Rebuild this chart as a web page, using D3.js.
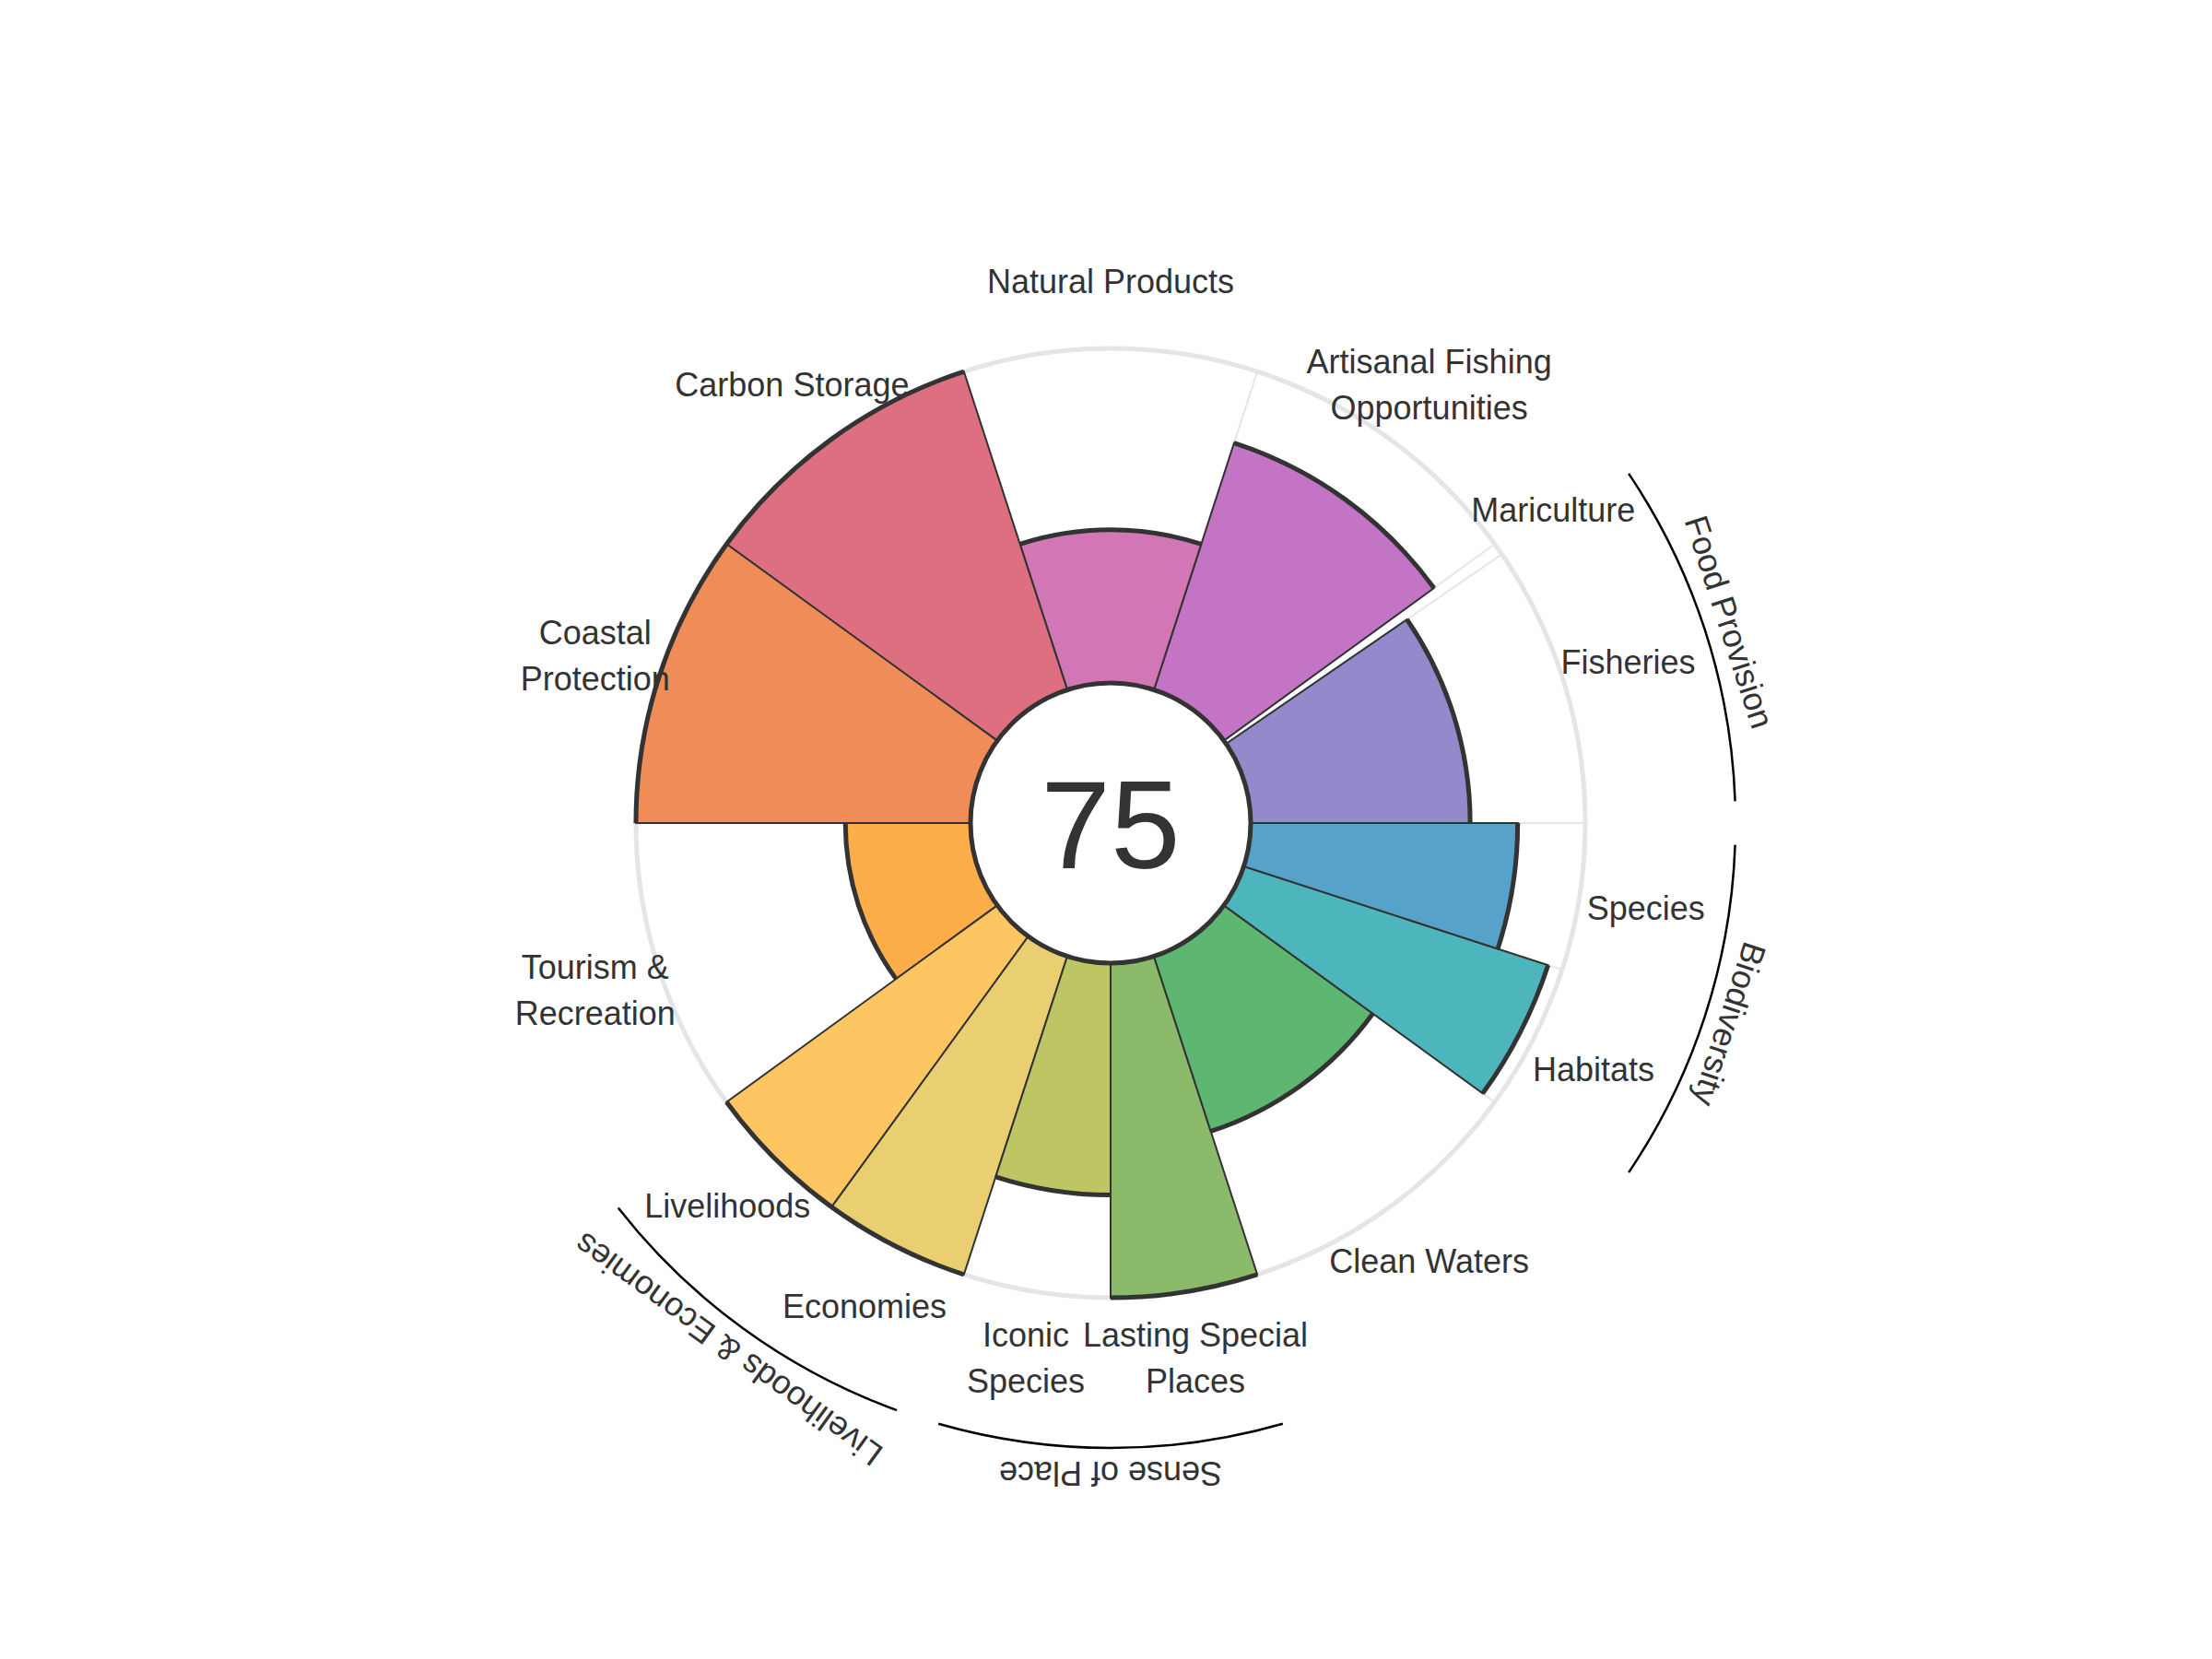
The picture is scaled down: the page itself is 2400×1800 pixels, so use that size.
<!DOCTYPE html>
<html>
<head>
<meta charset="utf-8">
<script src="https://cdn.jsdelivr.net/npm/d3@7"></script>
<style>
  body { margin: 0; background: #fff; }
  text { font-family: "Liberation Sans", Arial, Helvetica, sans-serif; fill: #333; }
</style>
</head>
<body>
<div id="chart"></div>
<script>
// Constants for the flower plot
const WIDTH = 2400;
const HEIGHT = 1800;
const CENTER = { x: 1205, y: 893 };
const INNER_R = 152;
const OUTER_R = 515;
const LABEL_R = 588;
const GROUP_R = 678;
const GROUP_LABEL_R = 706;
const FONT_SIZE = 36;

// goals, counter-clockwise starting at 3 o'clock
const goals = ['Fisheries', 'Mariculture', 'Artisanal Fishing Opportunities', 'Natural Products',
  'Carbon Storage', 'Coastal Protection', 'Tourism & Recreation', 'Livelihoods', 'Economies',
  'Iconic Species', 'Lasting Special Places', 'Clean Waters', 'Habitats', 'Species'];
const goalLabels = [['Fisheries'], ['Mariculture'], ['Artisanal Fishing', 'Opportunities'], ['Natural Products'],
  ['Carbon Storage'], ['Coastal', 'Protection'], ['Tourism &', 'Recreation'], ['Livelihoods'], ['Economies'],
  ['Iconic', 'Species'], ['Lasting Special', 'Places'], ['Clean Waters'], ['Habitats'], ['Species']];
const scores = [65.6, 0, 77.6, 45.8, 100, 100, 37.4, 100, 100, 69.3, 100, 55, 95.6, 79.8];
// width of each petal, 1 = a full goal (36 degrees)
const weights = [0.958, 0.042, 1, 1, 1, 1, 1, 0.5, 0.5, 0.5, 0.5, 1, 0.5, 0.5];
const colors = ['#9489ca', '#a77fc6', '#c474c4', '#d276b6', '#dd6f80', '#f08c57', '#fdae4b',
  '#fec663', '#e9cf71', '#bdc663', '#8bba6b', '#5db770', '#4db6bc', '#57a2c9'];

// goal groups (first and last petal index)
const groupNames = ['Food Provision', 'Biodiversity', 'Sense of Place', 'Livelihoods & Economies'];
const groupFirst = [0, 12, 9, 7];
const groupLast = [1, 13, 10, 8];

const overallScore = 75;

let svg;

setup();

function setup () {
  svg = d3.select('#chart')
    .append('svg')
    .attr('width', WIDTH)
    .attr('height', HEIGHT)
    .append('g')
    .attr('transform', `translate(${CENTER.x}, ${CENTER.y})`);

  // start / end angle of every petal in math degrees
  let acc = 0;
  const petals = goals.map((g, i) => {
    const a0 = acc;
    acc += weights[i] * 36;
    return { goal: g, lines: goalLabels[i], score: scores[i], color: colors[i], a0: a0, a1: acc };
  });

  const rScale = d3.scaleLinear().domain([0, 100]).range([INNER_R, OUTER_R]);

  drawGrid(petals);
  drawPetals(petals, rScale);
  drawLabels(petals);
  drawGroups(petals);
  drawCenter();
}

// math angle (deg, ccw from east) -> screen point
function polar (deg, r) {
  const a = deg * Math.PI / 180;
  return [r * Math.cos(a), -r * Math.sin(a)];
}

function d3Angle (deg) {
  return (90 - deg) * Math.PI / 180;
}

function drawGrid (petals) {
  svg.append('circle')
    .attr('r', OUTER_R)
    .attr('fill', 'none')
    .attr('stroke', '#e5e5e5')
    .attr('stroke-width', 5);

  svg.selectAll('line.grid')
    .data(petals)
    .enter()
    .append('line')
    .attr('class', 'grid')
    .attr('x1', d => polar(d.a0, INNER_R)[0])
    .attr('y1', d => polar(d.a0, INNER_R)[1])
    .attr('x2', d => polar(d.a0, OUTER_R)[0])
    .attr('y2', d => polar(d.a0, OUTER_R)[1])
    .attr('stroke', '#e5e5e5')
    .attr('stroke-width', 2);
}

function drawPetals (petals, rScale) {
  const arc = d3.arc()
    .innerRadius(INNER_R)
    .outerRadius(d => rScale(d.score))
    .startAngle(d => d3Angle(d.a1))
    .endAngle(d => d3Angle(d.a0));

  svg.selectAll('path.petal')
    .data(petals.filter(d => d.score > 0))
    .enter()
    .append('path')
    .attr('class', 'petal')
    .attr('d', arc)
    .attr('fill', d => d.color)
    .attr('stroke', '#333')
    .attr('stroke-width', 2);

  // thick outline on the outer edge
  svg.selectAll('path.edge')
    .data(petals.filter(d => d.score > 0))
    .enter()
    .append('path')
    .attr('class', 'edge')
    .attr('d', d => {
      const p = d3.path();
      const r = rScale(d.score);
      const s = polar(d.a0, r);
      p.moveTo(s[0], s[1]);
      p.arc(0, 0, r, -d.a0 * Math.PI / 180, -d.a1 * Math.PI / 180, true);
      return p.toString();
    })
    .attr('fill', 'none')
    .attr('stroke', '#333')
    .attr('stroke-width', 5);
}

function drawLabels (petals) {
  const labels = svg.selectAll('text.label')
    .data(petals)
    .enter()
    .append('text')
    .attr('class', 'label')
    .attr('text-anchor', 'middle')
    .attr('font-size', FONT_SIZE)
    .attr('transform', d => {
      const p = polar((d.a0 + d.a1) / 2, LABEL_R);
      return `translate(${p[0]}, ${p[1]})`;
    });

  labels.selectAll('tspan')
    .data(d => d.lines.map((l, i) => ({ text: l, y: (i - (d.lines.length - 1) / 2) * 50 })))
    .enter()
    .append('tspan')
    .attr('x', 0)
    .attr('y', d => d.y)
    .attr('dy', '0.35em')
    .text(d => d.text);
}

function drawGroups (petals) {
  const groups = groupNames.map((name, i) => ({
    name: name,
    a0: petals[groupFirst[i]].a0 + 2,
    a1: petals[groupLast[i]].a1 - 2
  }));

  svg.selectAll('path.group')
    .data(groups)
    .enter()
    .append('path')
    .attr('class', 'group')
    .attr('d', d => {
      const p = d3.path();
      const s = polar(d.a0, GROUP_R);
      p.moveTo(s[0], s[1]);
      p.arc(0, 0, GROUP_R, -d.a0 * Math.PI / 180, -d.a1 * Math.PI / 180, true);
      return p.toString();
    })
    .attr('fill', 'none')
    .attr('stroke', '#000')
    .attr('stroke-width', 2.5);

  svg.selectAll('text.group')
    .data(groups)
    .enter()
    .append('text')
    .attr('class', 'group')
    .attr('text-anchor', 'middle')
    .attr('dy', '0.35em')
    .attr('font-size', FONT_SIZE)
    .attr('transform', d => {
      const mid = (d.a0 + d.a1) / 2;
      const p = polar(mid, GROUP_LABEL_R);
      return `translate(${p[0]}, ${p[1]}) rotate(${90 - mid})`;
    })
    .text(d => d.name);
}

function drawCenter () {
  svg.append('circle')
    .attr('r', INNER_R)
    .attr('fill', '#fff')
    .attr('stroke', '#333')
    .attr('stroke-width', 5);

  svg.append('text')
    .attr('text-anchor', 'middle')
    .attr('dy', '0.36em')
    .attr('font-size', 136)
    .text(overallScore);
}
</script>
</body>
</html>
